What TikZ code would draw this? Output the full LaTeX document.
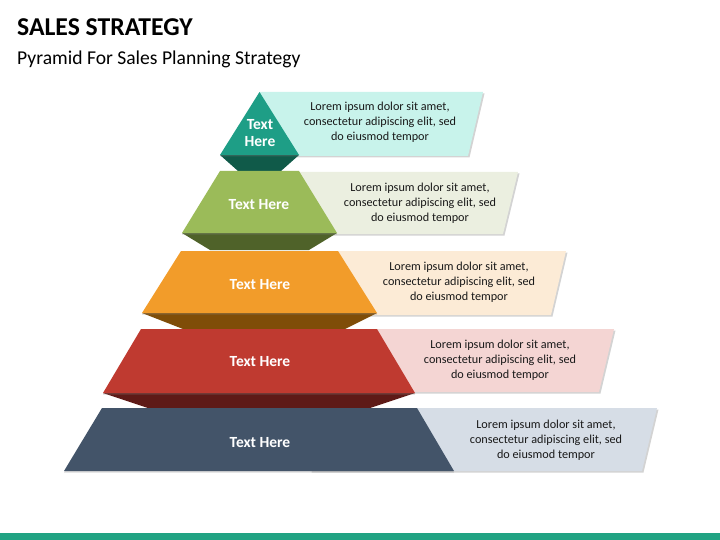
\documentclass[tikz,border=0pt]{standalone}
\usepackage{fontspec}
\setmainfont{Carlito}
\usetikzlibrary{shadows}

\definecolor{tealmain}{HTML}{1E9E86}
\definecolor{tealdark}{HTML}{105A49}
\definecolor{teallight}{HTML}{C8F3EB}
\definecolor{greenmain}{HTML}{9BBB59}
\definecolor{greendark}{HTML}{4F6229}
\definecolor{greenlight}{HTML}{EBEFE0}
\definecolor{orangemain}{HTML}{F29C2A}
\definecolor{orangedark}{HTML}{7F4D08}
\definecolor{orangelight}{HTML}{FCEBD6}
\definecolor{redmain}{HTML}{BF3A30}
\definecolor{reddark}{HTML}{5E1A17}
\definecolor{redlight}{HTML}{F4D5D3}
\definecolor{bluemain}{HTML}{435469}
\definecolor{bluelight}{HTML}{D6DDE6}
\definecolor{barteal}{HTML}{21A383}

\tikzset{
  infobox/.style={drop shadow={shadow xshift=1.5pt, shadow yshift=-1.5pt, opacity=0.35}},
  level/.style={drop shadow={shadow xshift=0pt, shadow yshift=-1.5pt, opacity=0.3}},
  lbl/.style={text=white, font=\bfseries\fontsize{15.5}{17}\selectfont, align=center},
  txt/.style={text=black!90, font=\fontsize{12.2}{14.8}\selectfont, align=center}
}

\begin{document}
\begin{tikzpicture}[x=1pt, y=-1pt]
    \useasboundingbox (0,0) rectangle (720,540);

    % title
    \node[anchor=base west, inner sep=0pt, font=\bfseries\fontsize{25.7}{28}\selectfont] (title) at (17,36) {SALES STRATEGY};
    \node[anchor=base west, inner sep=0pt, font=\fontsize{19.6}{22}\selectfont] (subtitle) at (17,65) {Pyramid For Sales Planning Strategy};

    % text boxes
    \fill[teallight, infobox] (260,92) -- (483,92) -- (468,156) -- (247,156) -- cycle;
    \fill[greenlight, infobox] (265,172) -- (518,172) -- (503,234) -- (250,234) -- cycle;
    \fill[orangelight, infobox] (270,251) -- (566,251) -- (551,315) -- (255,315) -- cycle;
    \fill[redlight, infobox] (290,329) -- (614,329) -- (599,392) -- (275,392) -- cycle;
    \fill[bluelight, infobox] (325,408) -- (657,408) -- (642,471) -- (310,471) -- cycle;

    % dark undersides
    \fill[tealdark] (220,155) -- (299,155) -- (281,171) -- (238,171) -- cycle;
    \fill[greendark] (182,233) -- (337,233) -- (309,250) -- (210,250) -- cycle;
    \fill[orangedark] (142,313) -- (377,313) -- (345,329) -- (183,329) -- cycle;
    \fill[reddark] (103,393) -- (415,393) -- (370,408) -- (148,408) -- cycle;

    % pyramid levels
    \fill[tealmain, level] (259.5,92) -- (299,155) -- (220,155) -- cycle;
    \fill[greenmain, level] (220,171) -- (299,171) -- (337,233) -- (182,233) -- cycle;
    \fill[orangemain, level] (181,251) -- (338,251) -- (377,313) -- (142,313) -- cycle;
    \fill[redmain, level] (141,329) -- (377,329) -- (415,393) -- (103,393) -- cycle;
    \fill[bluemain, level] (102,408) -- (417,408) -- (454,471) -- (64,471) -- cycle;

    % level labels
    \node[lbl] (L1) at (260,133) {Text\\Here};
    \node[lbl] (L2) at (259,205) {Text Here};
    \node[lbl] (L3) at (260,285) {Text Here};
    \node[lbl] (L4) at (260,362) {Text Here};
    \node[lbl] (L5) at (260,443) {Text Here};

    % descriptions
    \node[txt] (T1) at (380,122) {Lorem ipsum dolor sit amet,\\consectetur adipiscing elit, sed\\do eiusmod tempor};
    \node[txt] (T2) at (420,203) {Lorem ipsum dolor sit amet,\\consectetur adipiscing elit, sed\\do eiusmod tempor};
    \node[txt] (T3) at (459,282) {Lorem ipsum dolor sit amet,\\consectetur adipiscing elit, sed\\do eiusmod tempor};
    \node[txt] (T4) at (500,360) {Lorem ipsum dolor sit amet,\\consectetur adipiscing elit, sed\\do eiusmod tempor};
    \node[txt] (T5) at (546,440) {Lorem ipsum dolor sit amet,\\consectetur adipiscing elit, sed\\do eiusmod tempor};

    % bottom bar
    \fill[barteal] (0,533) rectangle (720,540);
\end{tikzpicture}
\end{document}
